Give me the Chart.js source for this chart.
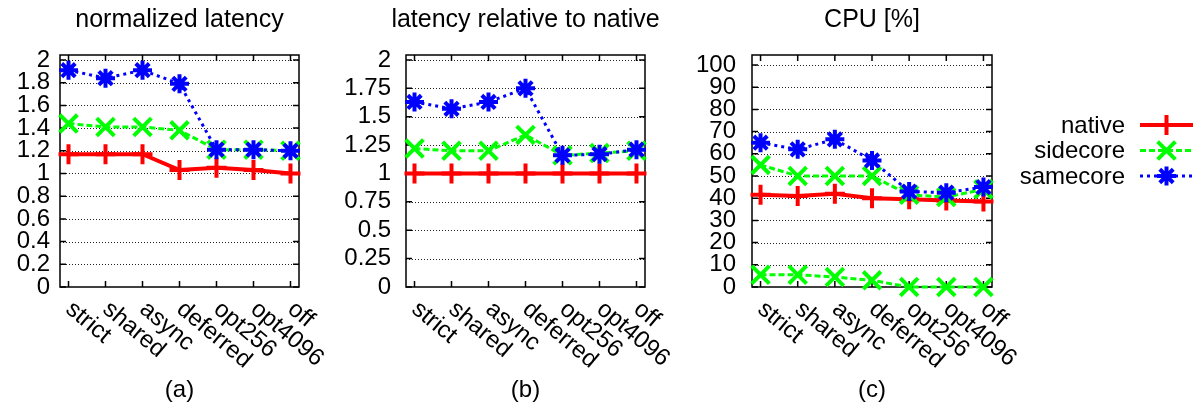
<!DOCTYPE html>
<html>
<head>
<meta charset="utf-8">
<script src="https://cdn.jsdelivr.net/npm/chart.js@4.4.0/dist/chart.umd.min.js"></script>
<style>
  body { margin: 0; background: #fff; width: 1200px; height: 406px; overflow: hidden; position: relative; }
  canvas { position: absolute; top: 0; }
</style>
</head>
<body>
<canvas id="chartA" width="340" height="406" style="left:0px"></canvas>
<canvas id="chartB" width="350" height="406" style="left:340px"></canvas>
<canvas id="chartC" width="510" height="406" style="left:690px"></canvas>
<script>
// categories on the x axis
const categories = ['strict', 'shared', 'async', 'deferred', 'opt256', 'opt4096', 'off'];

// (a) normalized latency
const latNative   = [1.17, 1.17, 1.17, 1.03, 1.05, 1.03, 1.00];
const latSidecore = [1.44, 1.41, 1.41, 1.38, 1.21, 1.21, 1.20];
const latSamecore = [1.91, 1.84, 1.91, 1.79, 1.21, 1.21, 1.20];

// (b) latency relative to native
const relNative   = [1, 1, 1, 1, 1, 1, 1];
const relSidecore = [1.22, 1.20, 1.20, 1.34, 1.16, 1.18, 1.20];
const relSamecore = [1.63, 1.57, 1.63, 1.75, 1.16, 1.17, 1.21];

// (c) CPU [%]
const cpuNative      = [41.5, 41, 42, 40, 39.5, 39, 38.5];
const cpuSidecore    = [55, 50, 50, 50, 41.5, 40.5, 44];
const cpuSidecoreLow = [5.5, 5.5, 4.5, 3, 0, 0, 0];
const cpuSamecore    = [65, 62, 66.5, 57, 43, 42.5, 45];

// y tick labels
const latTicks = [0, 0.2, 0.4, 0.6, 0.8, 1, 1.2, 1.4, 1.6, 1.8, 2];
const relTicks = [0, 0.25, 0.5, 0.75, 1, 1.25, 1.5, 1.75, 2];
const cpuTicks = [0, 10, 20, 30, 40, 50, 60, 70, 80, 90, 100];

const FONT = "'Liberation Sans', Arial, Helvetica, sans-serif";
Chart.defaults.font.family = FONT;
Chart.defaults.font.size = 24;
Chart.defaults.color = '#000';

// styles of the three series (gnuplot look)
const styles = {
    native:   { color: '#ff0000', width: 4, dash: [],     point: 'cross',    r: 10 },
    sidecore: { color: '#00ff00', width: 3, dash: [6, 3], point: 'crossRot', r: 12.5 },
    samecore: { color: '#0000ff', width: 3, dash: [3, 4], point: 'star',     r: 9.5 }
};

function drawMarker(ctx, kind, x, y, r) {
    ctx.beginPath();
    if (kind === 'cross' || kind === 'star') {
        ctx.moveTo(x - r, y); ctx.lineTo(x + r, y);
        ctx.moveTo(x, y - r); ctx.lineTo(x, y + r);
    }
    if (kind === 'crossRot' || kind === 'star') {
        const d = r * Math.SQRT1_2;
        ctx.moveTo(x - d, y - d); ctx.lineTo(x + d, y + d);
        ctx.moveTo(x - d, y + d); ctx.lineTo(x + d, y - d);
    }
    ctx.stroke();
}

function series(label, values, st, order, inLegend) {
    return {
        label: label,
        data: values.map((v, i) => ({ x: i, y: v })),
        borderColor: st.color,
        backgroundColor: st.color,
        borderWidth: st.width,
        borderDash: st.dash,
        pointStyle: st.point,
        pointRadius: st.r,
        pointBorderWidth: 4,
        pointBorderColor: st.color,
        tension: 0,
        clip: false,
        order: order,
        inLegend: inLegend,
        styleKey: st
    };
}

// frame, dotted grid, inward ticks, rotated labels, titles, legend
const gnuFrame = {
    id: 'gnuFrame',
    beforeDatasetsDraw(chart, args, opts) {
        const ctx = chart.ctx, a = chart.chartArea;
        const ys = chart.scales.y, xs = chart.scales.x;
        ctx.save();
        ctx.strokeStyle = '#222';
        ctx.lineWidth = 1;
        ctx.setLineDash([1, 2]);
        opts.ticks.forEach(v => {
            if (v === 0) return;
            const y = Math.round(ys.getPixelForValue(v)) + 0.5;
            ctx.beginPath(); ctx.moveTo(a.left, y); ctx.lineTo(a.right, y); ctx.stroke();
        });
        ctx.setLineDash([]);
        ctx.strokeStyle = '#000';
        ctx.lineWidth = 1.5;
        ctx.strokeRect(a.left, a.top, a.right - a.left, a.bottom - a.top);
        ctx.beginPath();
        opts.ticks.forEach(v => {
            const y = ys.getPixelForValue(v);
            ctx.moveTo(a.left, y); ctx.lineTo(a.left + 6, y);
            ctx.moveTo(a.right, y); ctx.lineTo(a.right - 6, y);
        });
        categories.forEach((c, i) => {
            const x = xs.getPixelForValue(i);
            ctx.moveTo(x, a.bottom); ctx.lineTo(x, a.bottom - 6);
            ctx.moveTo(x, a.top); ctx.lineTo(x, a.top + 6);
        });
        ctx.stroke();
        ctx.restore();
    },
    afterDraw(chart, args, opts) {
        const ctx = chart.ctx, a = chart.chartArea, xs = chart.scales.x;
        const cx = (a.left + a.right) / 2;
        ctx.save();
        ctx.fillStyle = '#000';
        ctx.font = '25px ' + FONT;
        ctx.textAlign = 'center';
        ctx.textBaseline = 'alphabetic';
        ctx.fillText(opts.title, cx, 27);
        ctx.font = '24px ' + FONT;
        ctx.fillText(opts.sub, cx, 397);
        categories.forEach((c, i) => {
            const x = xs.getPixelForValue(i);
            ctx.save();
            ctx.translate(x + 8, a.bottom + 10);
            ctx.rotate(40 * Math.PI / 180);
            ctx.textAlign = 'left';
            ctx.textBaseline = 'top';
            ctx.fillText(c, 0, 0);
            ctx.restore();
        });
        if (opts.legend) {
            const items = chart.data.datasets.filter(d => d.inLegend);
            items.forEach((d, i) => {
                const y = 125 + i * 25.5;
                const st = d.styleKey;
                ctx.textAlign = 'right';
                ctx.textBaseline = 'middle';
                ctx.fillStyle = '#000';
                ctx.fillText(d.label, opts.legend.textRight, y + 1);
                ctx.strokeStyle = st.color;
                ctx.lineWidth = st.width;
                ctx.setLineDash(st.dash);
                ctx.beginPath();
                ctx.moveTo(opts.legend.lineLeft, y);
                ctx.lineTo(opts.legend.lineRight, y);
                ctx.stroke();
                ctx.setLineDash([]);
                ctx.lineWidth = 4;
                drawMarker(ctx, st.point, (opts.legend.lineLeft + opts.legend.lineRight) / 2, y, st.r);
            });
        }
        ctx.restore();
    }
};

function makeChart(id, datasets, ticks, yMax, axisWidth, padRight, tickPad, title, sub, legend) {
    return new Chart(document.getElementById(id), {
        type: 'line',
        data: { datasets: datasets },
        options: {
            responsive: false,
            animation: false,
            devicePixelRatio: 1,
            layout: { padding: { top: 55, bottom: 119, left: 0, right: padRight } },
            plugins: {
                legend: { display: false },
                tooltip: { enabled: false },
                gnuFrame: { ticks: ticks, title: title, sub: sub, legend: legend }
            },
            scales: {
                x: { type: 'linear', min: -0.23, max: 6.23, display: false },
                y: {
                    type: 'linear',
                    min: 0,
                    max: yMax,
                    afterBuildTicks: s => { s.ticks = ticks.map(v => ({ value: v })); },
                    afterFit: s => { s.width = axisWidth; },
                    grid: { display: false, drawTicks: false },
                    border: { display: false },
                    ticks: {
                        autoSkip: false,
                        padding: tickPad,
                        color: '#000',
                        font: { size: 24 },
                        callback: v => String(+Number(v).toFixed(2))
                    }
                }
            }
        },
        plugins: [gnuFrame]
    });
}

makeChart('chartA', [
    series('native', latNative, styles.native, 3, true),
    series('sidecore', latSidecore, styles.sidecore, 2, true),
    series('samecore', latSamecore, styles.samecore, 1, true)
], latTicks, 2.044, 60, 41, 10, 'normalized latency', '(a)', null);

makeChart('chartB', [
    series('native', relNative, styles.native, 3, true),
    series('sidecore', relSidecore, styles.sidecore, 2, true),
    series('samecore', relSamecore, styles.samecore, 1, true)
], relTicks, 2.044, 66, 45, 15, 'latency relative to native', '(b)', null);

makeChart('chartC', [
    series('native', cpuNative, styles.native, 4, true),
    series('sidecore', cpuSidecore, styles.sidecore, 3, true),
    series('samecore', cpuSamecore, styles.samecore, 1, true),
    series('', cpuSidecoreLow, styles.sidecore, 2, false)
], cpuTicks, 104.5, 62, 208, 16, 'CPU [%]', '(c)', { textRight: 435, lineLeft: 450, lineRight: 503 });
</script>
</body>
</html>
